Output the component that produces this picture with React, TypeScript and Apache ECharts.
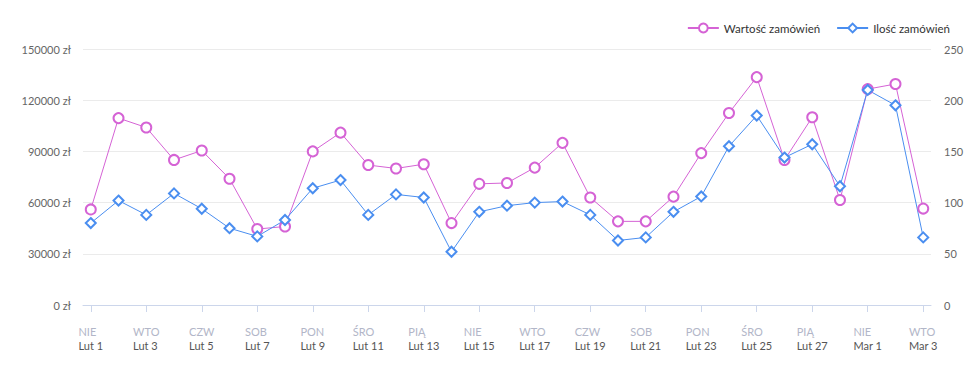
import React, { useEffect, useRef } from "react";
import * as echarts from "echarts";

const dayNames = ["NIE","PON","WTO","ŚRO","CZW","PIĄ","SOB","NIE","PON","WTO","ŚRO","CZW","PIĄ","SOB","NIE","PON","WTO","ŚRO","CZW","PIĄ","SOB","NIE","PON","WTO","ŚRO","CZW","PIĄ","SOB","NIE","PON","WTO"];
const dates = ["Lut 1","Lut 2","Lut 3","Lut 4","Lut 5","Lut 6","Lut 7","Lut 8","Lut 9","Lut 10","Lut 11","Lut 12","Lut 13","Lut 14","Lut 15","Lut 16","Lut 17","Lut 18","Lut 19","Lut 20","Lut 21","Lut 22","Lut 23","Lut 24","Lut 25","Lut 26","Lut 27","Lut 28","Mar 1","Mar 2","Mar 3"];
const orderValue = [56000,109500,104000,85000,90500,74000,44500,46000,90000,101000,82000,80000,82500,48000,71000,71500,80500,95000,63000,49000,49000,63500,89000,112500,133500,85000,110000,61500,126500,129500,56500];
const orderCount = [80,102,88,109,94,75,67,83,114,122,88,108,105,52,91,97,100,101,88,63,66,91,106,155,185,144,157,116,210,195,66];
const leftTicks = [0, 30000, 60000, 90000, 120000, 150000];
const rightTicks = [0, 50, 100, 150, 200, 250];
const labelPositions = [0,2,4,6,8,10,12,14,16,18,20,22,24,26,28,30];

const MAGENTA = "#d563d5";
const BLUE = "#4a8ef0";
const FONT = "Lato";

export default function App() {
  const ref = useRef<HTMLDivElement>(null);
  useEffect(() => {
    if (!ref.current) return;
    const chart = echarts.init(ref.current, null, { renderer: "svg" });
    chart.setOption({
      animation: false,
      textStyle: { fontFamily: FONT },
      legend: {
        right: 25,
        top: 17,
        itemWidth: 31,
        itemHeight: 11,
        itemGap: 16,
        textStyle: { fontFamily: FONT, fontSize: 11.5, color: "#333" },
        data: ["Wartość zamówień", "Ilość zamówień"],
      },
      grid: { left: 83, right: 49, top: 49, bottom: 66, containLabel: false },
      xAxis: {
        type: "value",
        min: -0.28,
        max: 30.28,
        axisLine: { show: true, onZero: false, lineStyle: { color: "#ccd6eb" } },
        axisTick: { show: true, length: 7, lineStyle: { color: "#ccd6eb" }, customValues: labelPositions },
        splitLine: { show: false },
        axisLabel: {
          customValues: labelPositions,
          margin: 19,
          formatter: (v: number) => {
            const i = Math.round(v);
            return "{d|" + dayNames[i] + "}\n{t|" + dates[i] + "}";
          },
          rich: {
            d: { color: "#b2b6c8", fontSize: 11, fontFamily: FONT, lineHeight: 14, align: "left" },
            t: { color: "#555", fontSize: 11, fontFamily: FONT, lineHeight: 14, align: "left" },
          },
        },
      },
      yAxis: [
        {
          type: "value",
          min: leftTicks[0],
          max: leftTicks[leftTicks.length - 1],
          interval: leftTicks[1] - leftTicks[0],
          axisLine: { show: false },
          axisTick: { show: false },
          axisLabel: { formatter: (v: number) => String(v) + " zł", color: "#666", fontSize: 11, fontFamily: FONT, margin: 12 },
          splitLine: { lineStyle: { color: "#ebebeb" } },
        },
        {
          type: "value",
          min: rightTicks[0],
          max: rightTicks[rightTicks.length - 1],
          interval: rightTicks[1] - rightTicks[0],
          axisLine: { show: false },
          axisTick: { show: false },
          axisLabel: { color: "#666", fontSize: 11, fontFamily: FONT, margin: 13 },
          splitLine: { show: false },
        },
      ],
      series: [
        {
          name: "Wartość zamówień",
          type: "line",
          yAxisIndex: 0,
          data: orderValue.map((v, i) => [i, v]),
          symbol: "emptyCircle",
          symbolSize: 10,
          color: MAGENTA,
          lineStyle: { width: 1, color: MAGENTA },
          itemStyle: { color: MAGENTA, borderColor: MAGENTA, borderWidth: 2 },
        },
        {
          name: "Ilość zamówień",
          type: "line",
          yAxisIndex: 1,
          data: orderCount.map((v, i) => [i, v]),
          symbol: "emptyDiamond",
          symbolSize: 10,
          color: BLUE,
          lineStyle: { width: 1, color: BLUE },
          itemStyle: { color: BLUE, borderColor: BLUE, borderWidth: 2 },
        },
      ],
    });
    return () => chart.dispose();
  }, []);
  return <div ref={ref} style={{ position: "fixed", left: 0, top: 0, width: 980, height: 371, background: "#fff" }} />;
}
